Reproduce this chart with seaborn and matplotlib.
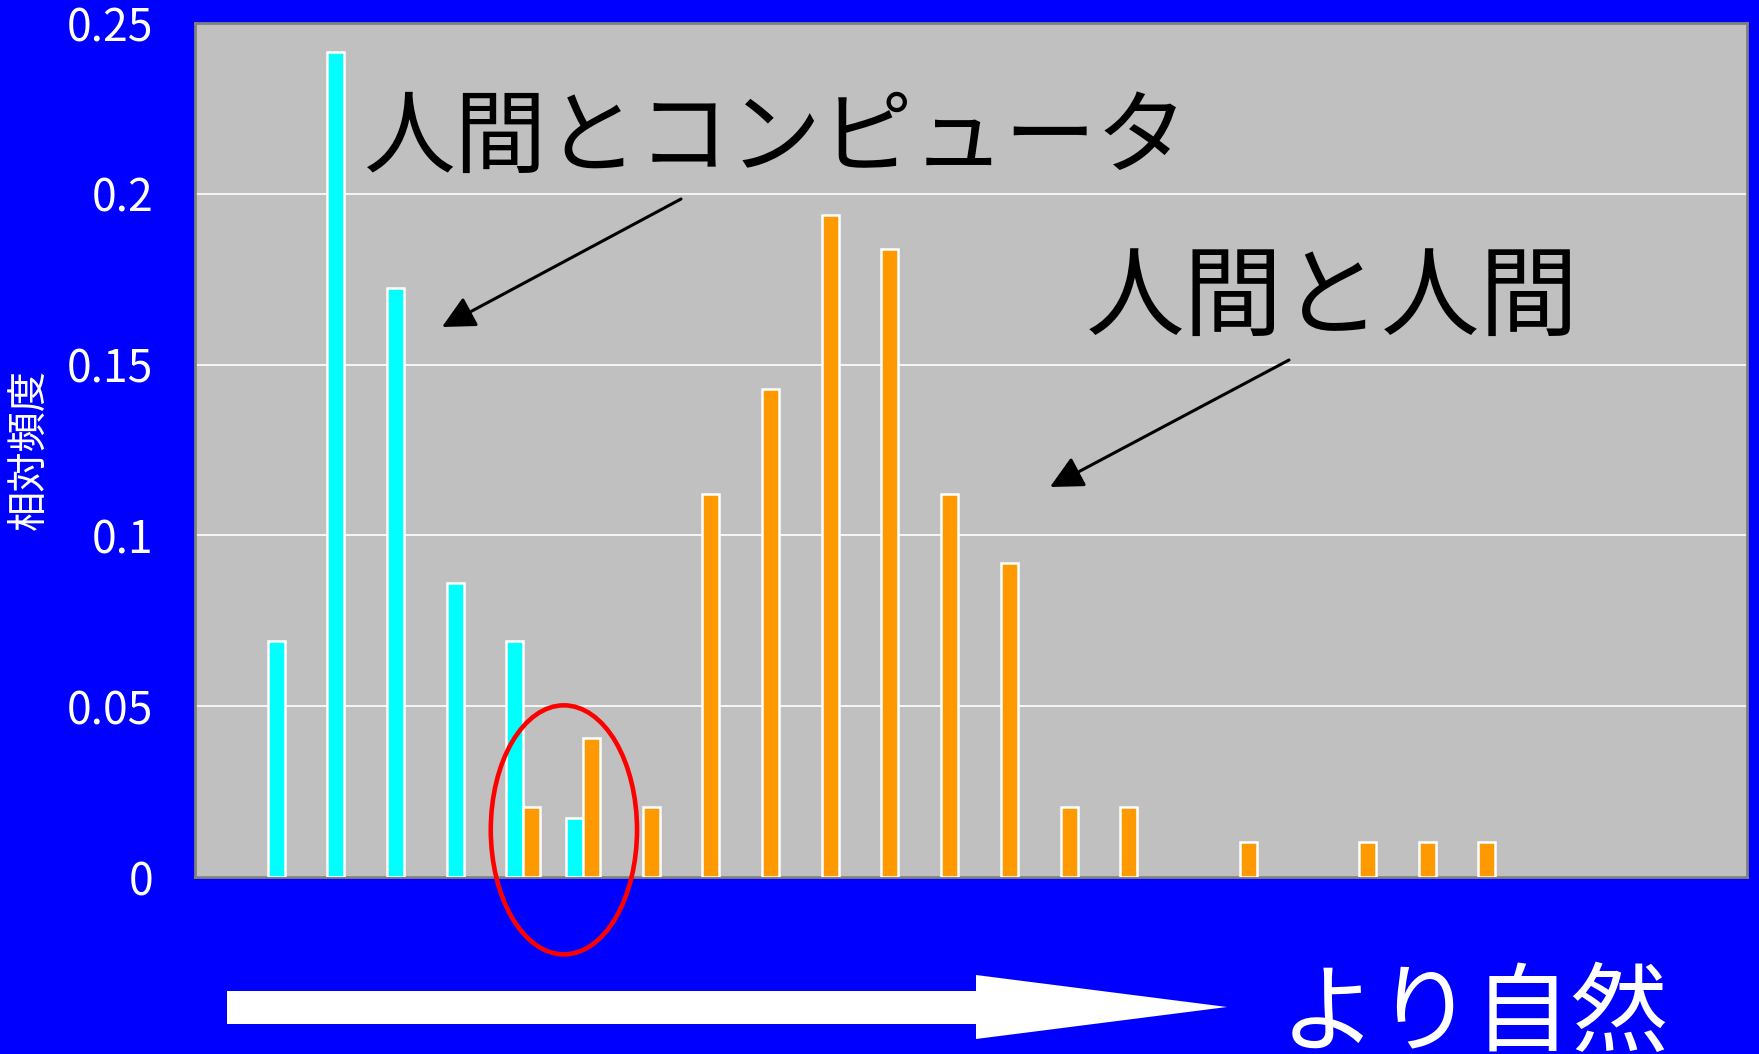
import numpy as np
import pandas as pd
import matplotlib
matplotlib.use("Agg")
import matplotlib.pyplot as plt
from matplotlib.patches import Ellipse, Polygon
from matplotlib.transforms import IdentityTransform
import seaborn as sns

# relative frequency per category (26 categories, left -> right = more natural)
categories = list(range(26))
hc_values = [0, 0.0690, 0.2414, 0.1724, 0.0862, 0.0690, 0.0172]           # 人間とコンピュータ
hh_values = [0, 0, 0, 0, 0, 0.0204, 0.0408, 0.0204, 0.1122, 0.1429,
             0.1939, 0.1837, 0.1122, 0.0918, 0.0204, 0.0204, 0, 0.0102,
             0, 0.0102, 0.0102, 0.0102]                                  # 人間と人間
series_names = ["人間とコンピュータ", "人間と人間"]
y_ticks = [0, 0.05, 0.1, 0.15, 0.2, 0.25]
y_ticklabels = ["0", "0.05", "0.1", "0.15", "0.2", "0.25"]

W, H = 1759, 1054

sns.set_style("white")
plt.rcParams['font.family'] = ['Noto Sans CJK JP', 'DejaVu Sans']

# long table, zero cells left out so no empty bar edge is drawn
rows = []
for name, vals in zip(series_names, [hc_values, hh_values]):
    for c, v in zip(categories, vals):
        if v > 0:
            rows.append({"cat": c, "series": name, "freq": v})
df = pd.DataFrame(rows)

fig = plt.figure(figsize=(W / 100, H / 100), dpi=100, facecolor="#0000FF")
ax = fig.add_axes([195 / W, 1 - 877 / H, (1747 - 195) / W, (877 - 23) / H])
ax.set_facecolor("#C0C0C0")

sns.barplot(data=df, x="cat", y="freq", hue="series", order=categories,
            hue_order=series_names, palette=["#00FFFF", "#FF9900"], saturation=1,
            width=0.57, edgecolor="white", linewidth=1.8, legend=False,
            errorbar=None, ax=ax, zorder=3)

ax.set_xlim(-0.5, len(categories) - 0.5)
ax.set_ylim(0, 0.25)
ax.set_yticks(y_ticks)
ax.set_yticklabels(y_ticklabels)
ax.yaxis.grid(True, color="white", lw=1.2, zorder=0)
ax.set_axisbelow(True)
ax.tick_params(axis="y", length=0, pad=30, labelsize=32, labelcolor="white")

# small white ticks between categories, pointing up
ax.set_xticks([c + 0.5 for c in categories[:-1]])
ax.set_xticklabels([])
ax.tick_params(axis="x", direction="in", length=12, width=1.2, color="white")
ax.set_xlabel("")

ax.set_ylabel("相対頻度", color="white", fontsize=29)
ax.yaxis.set_label_coords(-0.094, 0.5)

for s in ax.spines.values():
    s.set_color("#808080")
    s.set_linewidth(2)


def px(x, y):
    return (x / W, 1 - y / H)


# labels and arrows
fig.text(*px(364, 166), "人間とコンピュータ", fontsize=66, color="black", va="baseline")
fig.text(*px(1086, 328), "人間と人間", fontsize=71, color="black", va="baseline")

arrow = dict(arrowstyle="-|>", color="black", lw=2.2, mutation_scale=50,
             shrinkA=0, shrinkB=0)
ax.annotate("", xy=px(442, 327), xytext=px(681, 199),
            xycoords="figure fraction", textcoords="figure fraction", arrowprops=arrow)
ax.annotate("", xy=px(1050, 487), xytext=px(1289, 360),
            xycoords="figure fraction", textcoords="figure fraction", arrowprops=arrow)

# red circle around the overlap
ax.add_patch(Ellipse((5.68, 0.0138), 2.45, 0.0729, fill=False, edgecolor="red",
                     lw=3.3, clip_on=False, zorder=5))

# big white arrow at the bottom
pts = [(227, 63), (976, 63), (976, 79), (1227, 47), (976, 15), (976, 30), (227, 30)]
fig.add_artist(Polygon(pts, closed=True, facecolor="white", edgecolor="none",
                       transform=IdentityTransform()))
fig.text(*px(1280, 1044), "より自然", fontsize=70, color="white", va="baseline")

fig.savefig("out.png", dpi=100, facecolor=fig.get_facecolor())
